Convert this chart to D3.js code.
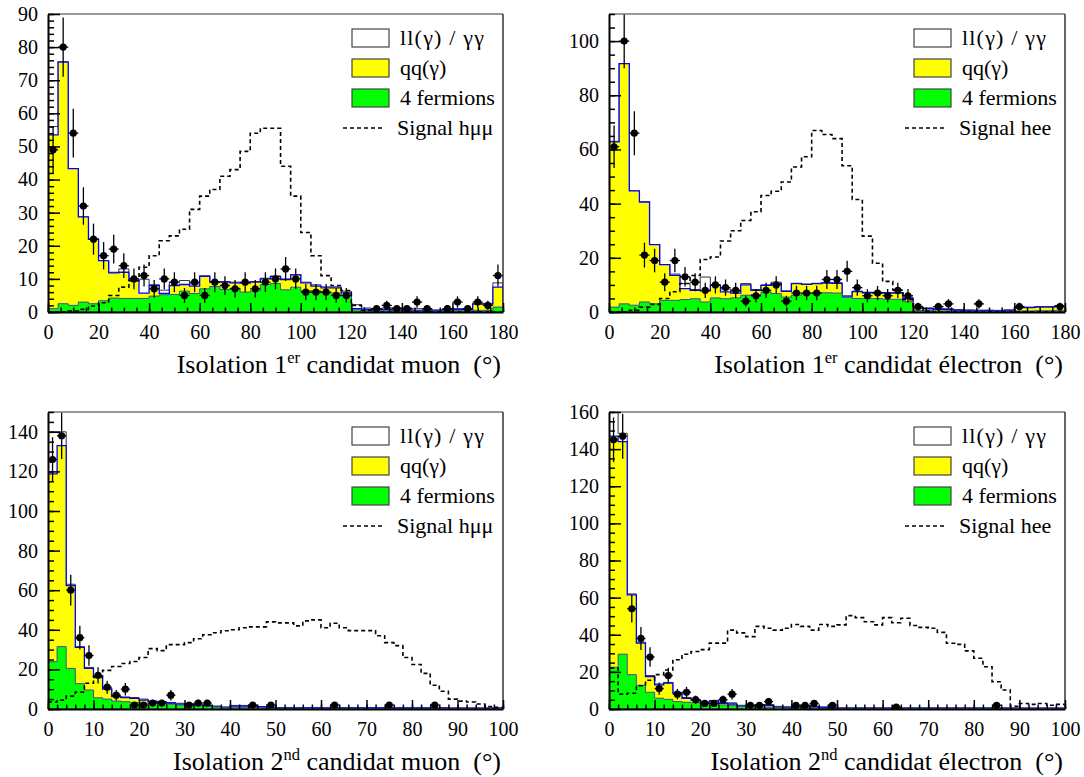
<!DOCTYPE html>
<html><head><meta charset="utf-8">
<script src="https://cdn.jsdelivr.net/npm/d3@7"></script>
<style>
body{margin:0;background:#fff;}
svg{display:block;}
text{font-family:"Liberation Serif","DejaVu Serif","Times New Roman",Times,serif;fill:#000;}
</style>
</head><body>
<svg id="chart" width="1084" height="777"></svg>
<script>
// ---------- DATA ----------
// Panel 1: isolation of 1st muon candidate, 45 bins of 4 degrees (0-180)
const muon1_fourFermions = [1.0,2.5,2.0,3.0,2.5,3.4,4.2,4.1,4.1,4.1, 4.8,5.2,5.3,6.3,5.6,7.0,7.7,6.8,7.2,6.0, 6.4,8.3,8.6,6.7,7.5,6.4,6.4,5.8,5.7,4.8, 0.7,0.5,0.4,0.4,0.3,0.3,0.3,0.3,0.3,0.3, 0.4,0.4,0.5,0.5,1.5];
const muon1_qq = [52.5,73.0,41.3,25.7,19.5,12.1,7.6,7.9,5.3,1.6, 3.2,0.4,2.7,2.0,2.2,3.8,1.4,2.2,1.6,2.7, 2.6,1.7,2.1,3.1,3.7,2.4,1.4,1.5,1.6,1.0, 0.3,0.3,0.4,0.4,0.3,0.3,0.2,0.2,0.2,0.3, 0.4,0.4,1.9,1.9,6.0];
const muon1_ll = [2.5,0,0,0,0,0,0.2,1.0,0.6,4.2, 0.2,1.0,1.0,1.2,0.7,0.1,0.1,0.2,0.2,0.2, 0.2,0.2,0.2,0.2,0.1,0.2,0.4,0.3,0.3,0.5, 1.2,0.4,0.2,0.4,0.7,0.6,0.5,0.3,0.1,0.2, 0.2,0.2,0.2,0.2,1.3];
const muon1_signal = [0,0,0.3,0.8,1.8,2.8,5,7.5,9.5,13.5, 17,21.5,23,25,31,35,37,41,43,48.5, 54,55.5,55.5,44,35,24,17,11,8,6.5, 2,0.5,0,0,0,0,0,0,0,0, 0,0,0,0,0];
const muon1_data = [49,80,54,32,22,17,19,14,10,11, 7,10,9,5,9,5,9,8,7,9, 7,9,10,13,10,6,6,6,5,5, 0,0,1,2,1,1,3,1,0,1, 3,1,3,2,11];

// Panel 2: isolation of 1st electron candidate, 45 bins of 4 degrees (0-180)
const elec1_fourFermions = [1.8,3.0,2.5,3.7,3.0,4.3,4.3,4.6,4.9,3.7, 5.2,4.9,5.2,6.2,6.4,7.4,6.8,5.5,6.2,6.8, 7.0,7.1,7.0,5.4,5.0,5.0,5.0,4.7,4.7,3.8, 0.6,0.5,0.4,0.4,0.3,0.3,0.3,0.3,0.3,0.3, 0.4,0.4,0.5,0.5,0.6];
const elec1_qq = [61.0,88.7,42.2,36.9,21.9,13.2,9.2,4.0,3.1,4.1, 4.6,2.5,1.8,3.8,1.6,2.4,3.7,2.1,4.3,3.4, 3.5,3.6,3.6,0.2,2.5,2.1,2.1,2.3,2.3,1.2, 0.8,0.7,0.6,0.5,0.3,0.2,0.2,0.2,0.2,0.3, 1.2,1.2,1.3,1.3,1.6];
const elec1_ll = [0.2,0,0,0,0,0,0.5,1.9,0.3,5.1, 0.2,1.1,0.5,0.5,0.3,0.2,0.5,0.2,0.1,0.1, 0.1,0.1,0.2,0.4,0.2,0.2,0.2,0.2,0.2,0.4, 0.4,0.3,0.4,0.3,0.3,0.3,0.2,0.2,0.1,0.2, 0.2,0.2,0.2,0.2,0.2];
const elec1_signal = [0,0,0.6,1.8,2.8,5,7.5,10.5,13.5,19.4, 20.3,26.2,30,33.8,37,43,44.6,48,53.5,57.3, 67,65.5,64,54,41.5,28,18,11.3,8.2,4.5, 1.5,0.3,0,0,0,0,0,0,0,0, 0,0,0,0,0];
const elec1_data = [61,100,66,21,19,11,19,13,11,8, 10,9,8,4,6,8,10,4,7,7, 7,12,12,15,9,6,7,6,8,6, 2,0,2,3,0,0,3,0,0,0, 2,0,0,0,2];

// Panel 3: isolation of 2nd muon candidate, 50 bins of 2 degrees (0-100)
const muon2_fourFermions = [23.9,31.5,20.5,12.8,9.6,5.7,5.0,4.0,3.7,3.2, 3.0,2.9,2.7,2.5,2.0,2.0,1.6,1.3,1.0,0.6, 0.7,0.7,0.7,0.5,0.4,0.3,0.3,0.3,0.3,0.3, 0.3,0.3,0.3,0.3,0.3,0.3,0.3,0.3,0.3,0.3, 0.3,0.3,0.3,0.3,0.2,0.2,0.2,0.2,0.2,0.2];
const muon2_qq = [94.8,101.5,41.8,18.3,10.9,10.1,5.0,2.2,2.0,2.2, 1.5,0.8,0.7,0.4,0.5,0.4,0.4,0.4,0.2,0.2, 0.8,0.8,0.7,0.5,0.3,0.3,0.3,0.3,0.3,0.3, 0.3,0.3,0.3,0.3,0.3,0.3,0.3,0.3,0.3,0.3, 0.3,0.3,0.3,0.3,0.2,0.2,0.2,0.2,0.2,0.2];
const muon2_ll = [21.3,7.0,0.7,0.4,0.5,0.5,0.5,0.4,0.4,0.4, 0.5,0.4,0.4,0.4,0.4,0.3,0.4,0.3,0.3,0.2, 0.3,0.3,0.3,0.2,0.2,0.1,0.1,0.1,0.1,0.1, 0.1,0.1,0.1,0.1,0.1,0.1,0.1,0.1,0.1,0.1, 0.1,0.1,0.1,0.1,0.1,0.1,0.1,0.1,0.1,0.1];
const muon2_signal = [3.5,4.5,6.5,8.5,13,16.5,19.5,21.5,23,24, 26,30.5,29.5,32.5,32.5,33.5,35.5,37.5,38.5,39.5, 40,41,41.5,41.5,44,43.5,43.5,42,44.5,45, 41,43.3,41,39.6,39.6,39.6,37,33.5,32,26, 22.5,18,12,9,5,4,3.5,2.5,1.2,0.8];
const muon2_data = [126,138,60,36,27,17,11,7,10,2, 2,3,3,7,0,2,3,3,0,0, 0,0,2,0,2,0,0,0,0,0, 0,2,0,0,0,0,0,2,0,0, 0,0,2,0,0,0,0,0,0,0];

// Panel 4: isolation of 2nd electron candidate, 50 bins of 2 degrees (0-100)
const elec2_fourFermions = [22.5,29.5,18.5,12.8,9.0,5.8,5.2,4.0,3.6,3.4, 2.8,2.6,2.2,1.8,1.3,1.2,1.0,0.9,0.8,0.6, 0.6,0.5,0.5,0.4,0.3,0.3,0.3,0.3,0.3,0.3, 0.3,0.3,0.3,0.3,0.3,0.3,0.3,0.3,0.3,0.3, 0.3,0.3,0.3,0.3,0.2,0.2,0.2,0.2,0.2,0.2];
const elec2_qq = [124.5,114.5,43.0,22.7,8.5,7.2,8.8,4.6,2.2,1.4, 0.4,1.6,0.8,0.9,0.3,0.4,0.8,0.9,0.2,0.3, 0.4,0.5,0.5,0.4,0.3,0.2,0.2,0.2,0.2,0.2, 0.2,0.2,0.2,0.2,0.2,0.2,0.2,0.2,0.2,0.2, 0.2,0.2,0.2,0.2,0.2,0.2,0.2,0.2,0.2,0.2];
const elec2_ll = [23,4.5,0.5,0.5,0.5,0.5,0.3,0.4,0.4,0.4, 0.4,0.4,0.4,0.6,0.4,0.3,0.6,0.6,0.4,0.3, 0.3,0.3,0.3,0.3,0.2,0.1,0.1,0.1,0.1,0.1, 0.1,0.1,0.1,0.1,0.1,0.1,0.1,0.1,0.1,0.1, 0.1,0.1,0.1,0.1,0.1,0.1,0.1,0.1,0.1,0.1];
const elec2_signal = [22,8,8.5,12.5,15.5,18.5,21,26.5,29.5,31, 32,35.5,35.5,42.5,41,39,44.5,43.5,42.5,43.5, 45.5,44.5,42.5,45.5,44.5,45.3,50.3,49.2,47,45.3, 49.2,46.5,48.9,45,44,43.5,41.3,35.4,34.8,31.3, 27.3,22.8,14.7,10.2,1.5,3,2.5,3,2,2.5];
const elec2_data = [145,147,54,38,28,11,18,8,9,5, 3,3,5,8,0,2,2,4,0,0, 2,2,3,0,2,0,0,0,0,0, 0,1,0,0,0,0,0,0,0,0, 0,0,2,0,0,0,0,0,0,0];

// Legend labels
const legendLabels = ["ll(\u03b3) / \u03b3\u03b3", "qq(\u03b3)", "4 fermions"];
const signalLabelMuon = "Signal h\u03bc\u03bc";
const signalLabelElec = "Signal hee";

// ---------- LAYOUT ----------
const FONT = '"Liberation Serif","DejaVu Serif","Times New Roman",Times,serif';
const svg = d3.select("#chart");
const panels = [
  {id:"p1", left:48, top:14, width:455, height:298, xMax:180, yMax:90, binW:4,
   xMajor:20, xMinor:5, yMajor:10, yMinor:2,
   fourF:muon1_fourFermions, qq:muon1_qq, ll:muon1_ll, signal:muon1_signal, data:muon1_data,
   sigLabel:signalLabelMuon, title:["Isolation 1","er"," candidat muon\u00a0\u00a0(\u00b0)"]},
  {id:"p2", left:609, top:14, width:456, height:298, xMax:180, yMax:110, binW:4,
   xMajor:20, xMinor:5, yMajor:20, yMinor:5,
   fourF:elec1_fourFermions, qq:elec1_qq, ll:elec1_ll, signal:elec1_signal, data:elec1_data,
   sigLabel:signalLabelElec, title:["Isolation 1","er"," candidat \u00e9lectron\u00a0\u00a0(\u00b0)"]},
  {id:"p3", left:48, top:412, width:455, height:297, xMax:100, yMax:150, binW:2,
   xMajor:10, xMinor:2, yMajor:20, yMinor:5,
   fourF:muon2_fourFermions, qq:muon2_qq, ll:muon2_ll, signal:muon2_signal, data:muon2_data,
   sigLabel:signalLabelMuon, title:["Isolation 2","nd"," candidat muon\u00a0\u00a0(\u00b0)"]},
  {id:"p4", left:609, top:412, width:456, height:297, xMax:100, yMax:160, binW:2,
   xMajor:10, xMinor:2, yMajor:20, yMinor:5,
   fourF:elec2_fourFermions, qq:elec2_qq, ll:elec2_ll, signal:elec2_signal, data:elec2_data,
   sigLabel:signalLabelElec, title:["Isolation 2","nd"," candidat \u00e9lectron\u00a0\u00a0(\u00b0)"]}
];

const COL_WHITE = "#ffffff", COL_YELLOW = "#ffff00", COL_GREEN = "#00ff00";

function drawPanel(p) {
  const right = p.left + p.width, bottom = p.top + p.height;
  const x = d3.scaleLinear().domain([0, p.xMax]).range([p.left, right]);
  const y = d3.scaleLinear().domain([0, p.yMax]).range([bottom, p.top]);
  const g = svg.append("g");

  svg.append("clipPath").attr("id", "clip-" + p.id)
    .append("rect").attr("x", p.left).attr("y", p.top).attr("width", p.width).attr("height", p.height);
  const plot = g.append("g").attr("clip-path", `url(#clip-${p.id})`);

  const n = p.fourF.length;
  const rows = d3.range(n).map(i => ({fourF:p.fourF[i], qq:p.qq[i], ll:p.ll[i]}));
  const stack = d3.stack().keys(["fourF","qq","ll"])(rows);
  const edges = d3.range(n + 1).map(i => i * p.binW);
  const pts = layer => edges.map((e, i) => ({x:e, v:layer[Math.min(i, n - 1)][1]}));
  const area = d3.area().curve(d3.curveStepAfter)
    .x(d => x(d.x)).y0(y(0)).y1(d => y(d.v));

  plot.append("path").datum(pts(stack[2])).attr("d", area)
    .attr("fill", COL_WHITE).attr("stroke", "#333").attr("stroke-width", 1);
  plot.append("path").datum(pts(stack[1])).attr("d", area)
    .attr("fill", COL_YELLOW).attr("stroke", "#0000ff").attr("stroke-width", 1.3);
  plot.append("path").datum(pts(stack[0])).attr("d", area)
    .attr("fill", COL_GREEN).attr("stroke", "#3f4f9f").attr("stroke-width", 1);

  const sigPts = [{x:0, v:0}].concat(edges.map((e, i) => ({x:e, v:p.signal[Math.min(i, n - 1)]})), [{x:p.xMax, v:0}]);
  const line = d3.line().curve(d3.curveStepAfter).x(d => x(d.x)).y(d => y(d.v));
  plot.append("path").datum(sigPts).attr("d", line)
    .attr("fill", "none").attr("stroke", "#000").attr("stroke-width", 1.6)
    .attr("stroke-dasharray", "4,3");

  const pts2 = p.data.map((v, i) => ({v, lo:i * p.binW, hi:(i + 1) * p.binW, c:(i + 0.5) * p.binW})).filter(d => d.v > 0);
  const dg = plot.append("g");
  dg.selectAll("line.v").data(pts2).join("line").attr("class", "v")
    .attr("x1", d => x(d.c)).attr("x2", d => x(d.c))
    .attr("y1", d => y(d.v - Math.sqrt(d.v))).attr("y2", d => y(d.v + Math.sqrt(d.v)))
    .attr("stroke", "#000").attr("stroke-width", 1.3);
  dg.selectAll("line.h").data(pts2).join("line").attr("class", "h")
    .attr("x1", d => x(d.lo)).attr("x2", d => x(d.hi))
    .attr("y1", d => y(d.v)).attr("y2", d => y(d.v))
    .attr("stroke", "#000").attr("stroke-width", 1.3);
  dg.selectAll("circle").data(pts2).join("circle")
    .attr("cx", d => x(d.c)).attr("cy", d => y(d.v)).attr("r", 3.6).attr("fill", "#000");

  g.append("line").attr("x1", p.left).attr("x2", right).attr("y1", p.top).attr("y2", p.top)
    .attr("stroke", "#777").attr("stroke-width", 1.5);
  g.append("line").attr("x1", right).attr("x2", right).attr("y1", p.top).attr("y2", bottom)
    .attr("stroke", "#333").attr("stroke-width", 1.5);

  const eps = 1e-9;
  const xMajorVals = d3.range(0, p.xMax + eps, p.xMajor);
  const xMinorVals = d3.range(0, p.xMax + eps, p.xMinor);
  const yMajorVals = d3.range(0, p.yMax + eps, p.yMajor).filter(v => v <= p.yMax);
  const yMinorVals = d3.range(0, p.yMax + eps, p.yMinor);

  const styleAxis = sel => {
    sel.attr("font-family", FONT).attr("font-size", 20);
    sel.selectAll("text").attr("font-family", FONT).attr("font-size", 20).attr("fill", "#000");
    sel.selectAll(".tick line").attr("stroke", "#000").attr("stroke-width", 1.5);
  };

  g.append("g").attr("transform", `translate(0,${bottom})`)
    .call(d3.axisBottom(x).tickValues(xMinorVals).tickSize(-4.5).tickSizeOuter(0).tickFormat(""))
    .call(s => s.select(".domain").remove()).call(styleAxis);
  g.append("g").attr("transform", `translate(0,${bottom})`)
    .call(d3.axisBottom(x).tickValues(xMajorVals).tickSize(-9).tickSizeOuter(0).tickPadding(13).tickFormat(d3.format("d")))
    .call(styleAxis)
    .call(s => s.select(".domain").attr("stroke", "#000").attr("stroke-width", 2));

  g.append("g").attr("transform", `translate(${p.left},0)`)
    .call(d3.axisLeft(y).tickValues(yMinorVals).tickSize(-6).tickSizeOuter(0).tickFormat(""))
    .call(s => s.select(".domain").remove()).call(styleAxis);
  g.append("g").attr("transform", `translate(${p.left},0)`)
    .call(d3.axisLeft(y).tickValues(yMajorVals).tickSize(-12).tickSizeOuter(0).tickPadding(10).tickFormat(d3.format("d")))
    .call(styleAxis)
    .call(s => s.select(".domain").attr("stroke", "#000").attr("stroke-width", 2));

  const t = g.append("text").attr("x", right - 2).attr("y", bottom + 61)
    .attr("text-anchor", "end").attr("font-family", FONT).attr("font-size", 26);
  t.append("tspan").text(p.title[0]);
  t.append("tspan").attr("font-size", 16.5).attr("dy", -10).text(p.title[1]);
  t.append("tspan").attr("font-size", 26).attr("dy", 10).text(p.title[2]);

  const lg = g.append("g");
  const fills = [COL_WHITE, COL_YELLOW, COL_GREEN];
  legendLabels.forEach((lab, k) => {
    const by = p.top + 15 + k * 30;
    lg.append("rect").attr("x", right - 151).attr("y", by).attr("width", 37).attr("height", 18)
      .attr("fill", fills[k]).attr("stroke", "#444").attr("stroke-width", 1.2);
    lg.append("text").attr("x", right - 103).attr("y", by + 16)
      .attr("font-family", FONT).attr("font-size", 22)
      .attr("letter-spacing", k === 0 ? 1.2 : 0).text(lab);
  });
  lg.append("line").attr("x1", right - 160).attr("x2", right - 118)
    .attr("y1", p.top + 114).attr("y2", p.top + 114)
    .attr("stroke", "#000").attr("stroke-width", 1.3).attr("stroke-dasharray", "4,3");
  lg.append("text").attr("x", right - 106).attr("y", p.top + 121)
    .attr("font-family", FONT).attr("font-size", 22).text(p.sigLabel);
}

panels.forEach(drawPanel);
</script>
</body></html>
